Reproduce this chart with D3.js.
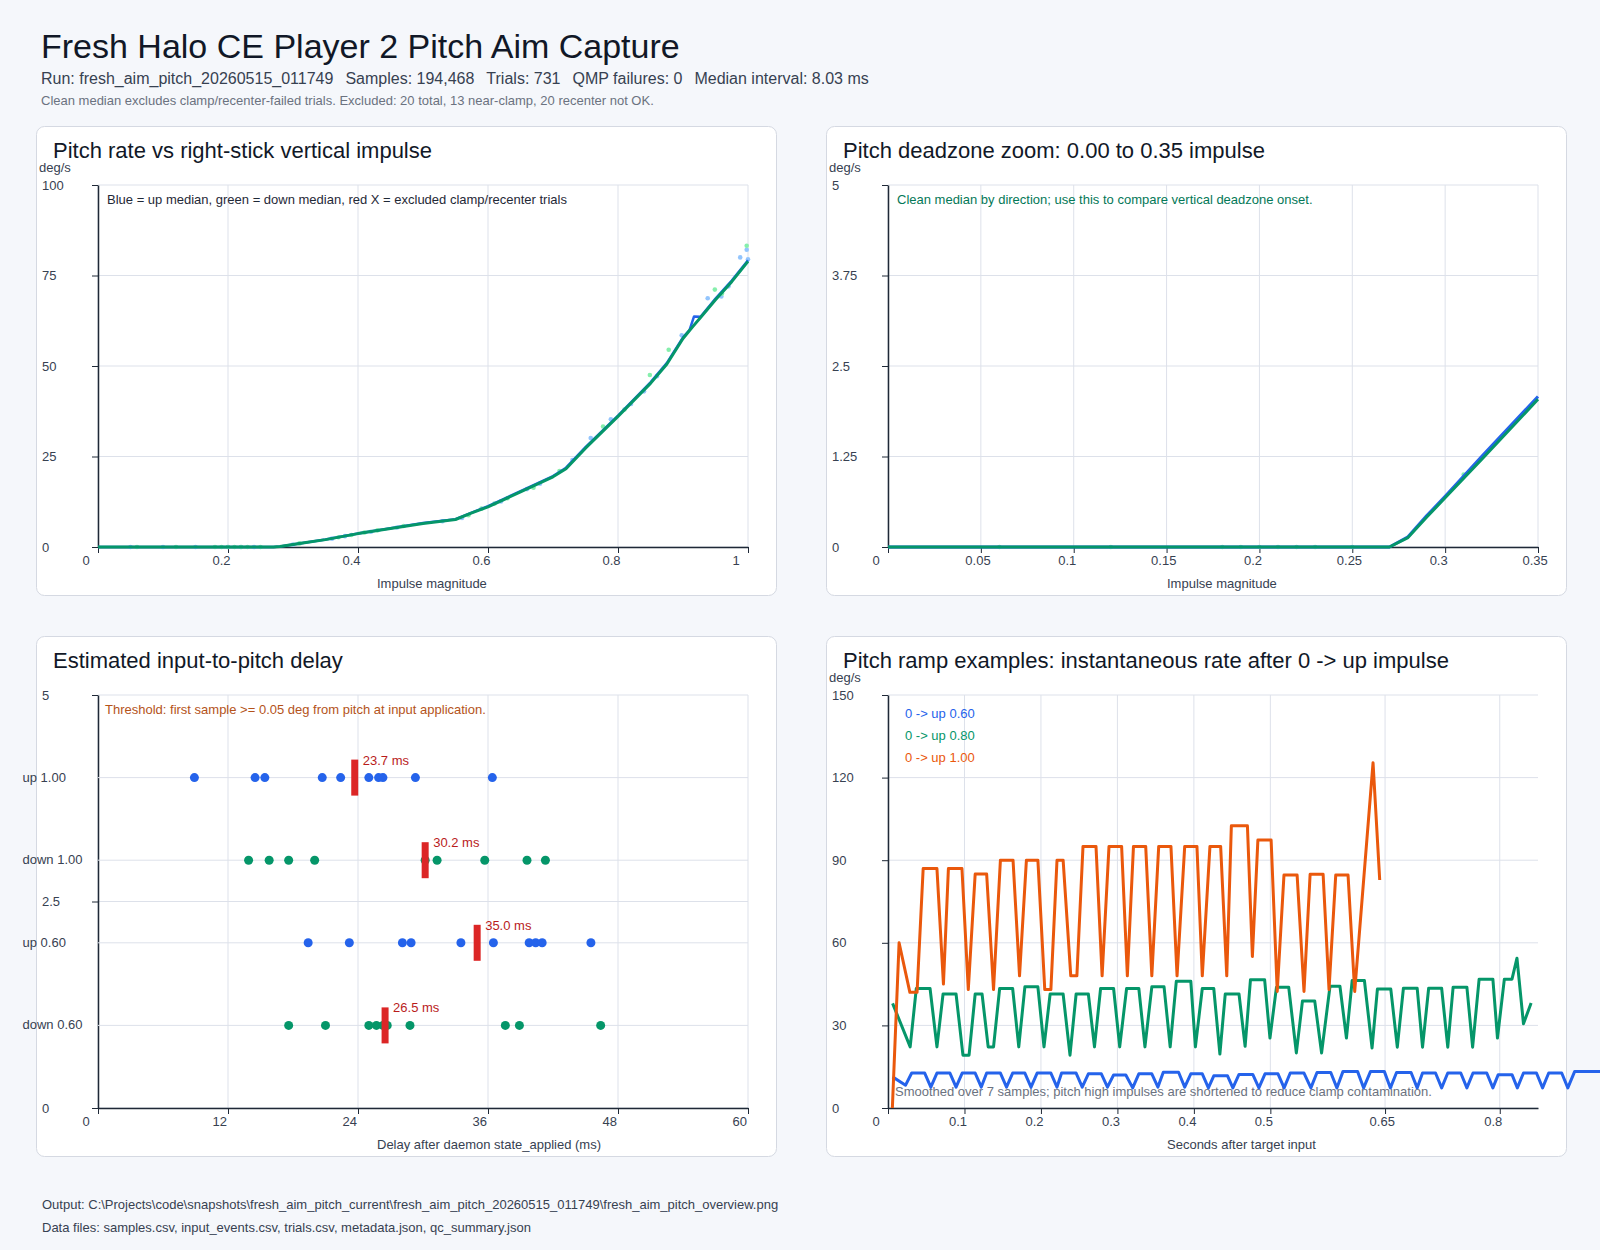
<!DOCTYPE html>
<html>
<head>
<meta charset="utf-8">
<script src="https://cdn.jsdelivr.net/npm/d3@7"></script>
<style>
html, body { margin: 0; padding: 0; background: #f5f7fb; }
svg { display: block; font-family: "Liberation Sans", Arial, sans-serif; }
</style>
</head>
<body>
<script>
var width = 1600;
var height = 1250;

// ------- data --------

// header
var title = 'Fresh Halo CE Player 2 Pitch Aim Capture';
var runInfo = ['Run: fresh_aim_pitch_20260515_011749', 'Samples: 194,468', 'Trials: 731', 'QMP failures: 0', 'Median interval: 8.03 ms'];
var cleanNote = 'Clean median excludes clamp/recenter-failed trials. Excluded: 20 total, 13 near-clamp, 20 recenter not OK.';
var footer = ['Output: C:\\Projects\\code\\snapshots\\fresh_aim_pitch_current\\fresh_aim_pitch_20260515_011749\\fresh_aim_pitch_overview.png',
              'Data files: samples.csv, input_events.csv, trials.csv, metadata.json, qc_summary.json'];

// pitch rate vs impulse (clean medians)
var impulse    = [0, 0.05, 0.1, 0.15, 0.2, 0.25, 0.27, 0.28, 0.29, 0.30, 0.32, 0.35, 0.40, 0.45, 0.50, 0.55, 0.575, 0.60, 0.65, 0.70, 0.72, 0.75, 0.80, 0.85, 0.875, 0.90, 0.91, 0.917, 0.927, 0.95, 0.975, 1.0];
var upMedian   = [0, 0, 0, 0, 0, 0, 0, 0.14, 0.43, 0.70, 1.26, 2.08, 3.75, 5.15, 6.6, 7.7, 9.5, 11.3, 15.4, 19.6, 21.9, 27.6, 36.3, 45.5, 50.8, 57.9, 59.9, 63.7, 63.6, 68.6, 73.6, 79.2];
var downMedian = [0, 0, 0, 0, 0, 0, 0, 0.13, 0.41, 0.68, 1.22, 2.04, 3.70, 5.10, 6.5, 7.6, 9.4, 11.1, 15.2, 19.4, 21.6, 27.3, 36.1, 45.2, 50.5, 57.6, 59.8, 61.3, 63.4, 68.3, 73.3, 78.9];

// individual clean trials [impulse, deg/s]
var upTrials = [[0.05, 0], [0.1, 0], [0.15, 0], [0.2, 0], [0.22, 0], [0.24, 0], [0.3, 0.7], [0.36, 2.3], [0.38, 3.0], [0.42, 4.2], [0.46, 5.4],
    [0.53, 7.1], [0.56, 8.0], [0.62, 12.6], [0.66, 16.0], [0.68, 17.5], [0.73, 24.0], [0.758, 30.1], [0.789, 35.3], [0.82, 39.5],
    [0.84, 43.0], [0.86, 47.2], [0.898, 58.5], [0.938, 68.7], [0.959, 69.2], [0.97, 72.0], [0.988, 80.0], [0.998, 82.1], [1.0, 79.5]];
var downTrials = [[0.06, 0], [0.12, 0], [0.18, 0], [0.19, 0], [0.2, 0], [0.21, 0], [0.22, 0], [0.23, 0], [0.25, 0], [0.31, 1.0], [0.37, 2.7],
    [0.39, 3.3], [0.41, 4.0], [0.43, 4.6], [0.47, 5.8], [0.57, 8.8], [0.59, 10.6], [0.61, 12.0], [0.63, 13.5], [0.67, 16.4], [0.71, 21.0],
    [0.777, 33.3], [0.81, 38.0], [0.849, 47.5], [0.878, 54.5], [0.949, 71.1], [0.96, 70.0], [0.998, 83.2]];

// delay per trial (ms)
var delayRows = ['up 1.00', 'down 1.00', 'up 0.60', 'down 0.60'];
var delayRowPos = [4, 3, 2, 1];
var delayUp100   = [8.9, 14.5, 15.4, 20.7, 22.4, 25.0, 25.9, 26.3, 29.3, 36.4];
var delayDown100 = [13.9, 15.8, 17.6, 20.0, 30.2, 31.3, 35.7, 39.6, 41.3];
var delayUp060   = [19.4, 23.2, 28.1, 28.9, 33.5, 36.5, 39.8, 40.4, 41.0, 45.5];
var delayDown060 = [17.6, 21.0, 25.0, 25.7, 26.3, 26.7, 28.8, 37.6, 38.9, 46.4];

// ramp examples [seconds, deg/s]
var rampLabels = ['0 -> up 0.60', '0 -> up 0.80', '0 -> up 1.00'];
var ramp060 = [[0.006, 11.3], [0.023, 8.3], [0.031, 12.7], [0.048, 12.7], [0.056, 7.6], [0.064, 12.7], [0.081, 12.7], [0.089, 7.6],
    [0.097, 12.7], [0.114, 12.7], [0.122, 7.6], [0.129, 12.7], [0.147, 12.7], [0.155, 7.6], [0.163, 12.7], [0.179, 12.7], [0.187, 7.6],
    [0.195, 12.7], [0.213, 12.7], [0.221, 7.6], [0.227, 12.7], [0.246, 12.7], [0.254, 7.6], [0.262, 12.4], [0.279, 12.4], [0.287, 7.6],
    [0.295, 12.0], [0.311, 12.0], [0.320, 7.3], [0.328, 12.4], [0.345, 12.4], [0.353, 7.6], [0.360, 13.0], [0.380, 13.0], [0.388, 7.6],
    [0.396, 12.4], [0.411, 12.4], [0.419, 7.3], [0.426, 11.7], [0.444, 11.7], [0.451, 7.3], [0.459, 12.2], [0.477, 12.2], [0.485, 7.3],
    [0.493, 12.4], [0.510, 12.4], [0.518, 7.3], [0.526, 12.7], [0.544, 12.7], [0.553, 7.3], [0.561, 12.9], [0.579, 12.9], [0.587, 7.3],
    [0.595, 13.3], [0.614, 13.3], [0.622, 7.3], [0.631, 13.3], [0.649, 13.3], [0.657, 7.3], [0.665, 12.9], [0.684, 12.9], [0.692, 7.3],
    [0.699, 12.7], [0.716, 12.7], [0.724, 7.3], [0.732, 12.7], [0.749, 12.7], [0.757, 7.3], [0.765, 12.7], [0.783, 12.7], [0.791, 7.3],
    [0.798, 12.1], [0.816, 12.1], [0.823, 7.3], [0.831, 12.7], [0.848, 12.7], [0.856, 7.3], [0.864, 12.7], [0.881, 12.7], [0.889, 7.3],
    [0.898, 13.3], [0.935, 13.3]];
var ramp080 = [[0.006, 38.0], [0.029, 22.2], [0.037, 43.4], [0.055, 43.4], [0.064, 22.2], [0.072, 41.4], [0.089, 41.4], [0.098, 19.2],
    [0.106, 19.2], [0.114, 41.4], [0.123, 41.4], [0.131, 22.2], [0.138, 22.2], [0.146, 43.4], [0.163, 43.4], [0.171, 22.2], [0.179, 44.0],
    [0.196, 44.0], [0.204, 22.2], [0.212, 41.4], [0.229, 41.4], [0.238, 19.2], [0.246, 41.4], [0.262, 41.4], [0.270, 22.2], [0.278, 43.4],
    [0.295, 43.4], [0.303, 22.2], [0.312, 43.4], [0.328, 43.4], [0.336, 22.2], [0.345, 44.0], [0.361, 44.0], [0.369, 22.2], [0.377, 46.0],
    [0.396, 46.0], [0.402, 22.2], [0.411, 43.4], [0.426, 43.4], [0.434, 19.6], [0.441, 41.4], [0.459, 41.4], [0.467, 22.4], [0.474, 46.6],
    [0.4925, 46.6], [0.4995, 25.4], [0.508, 43.9], [0.524, 43.9], [0.534, 20.0], [0.542, 38.9], [0.558, 38.9], [0.567, 20.0], [0.578, 44.2],
    [0.591, 44.2], [0.5995, 25.4], [0.607, 46.3], [0.623, 46.3], [0.633, 21.8], [0.640, 43.2], [0.6575, 43.2], [0.666, 22.1], [0.674, 43.5],
    [0.692, 43.5], [0.699, 22.1], [0.707, 43.5], [0.724, 43.5], [0.732, 22.1], [0.739, 43.9], [0.757, 43.9], [0.7645, 22.1], [0.773, 46.8],
    [0.791, 46.8], [0.797, 25.4], [0.806, 46.8], [0.816, 46.8], [0.8225, 54.4], [0.831, 30.6], [0.841, 38.1]];
var ramp100 = [[0.0057, 0], [0.0145, 60], [0.0286, 42], [0.038, 42], [0.046, 87], [0.064, 87], [0.0725, 45], [0.079, 87], [0.0967, 87],
    [0.105, 43], [0.114, 85], [0.129, 85], [0.138, 43], [0.147, 90], [0.1635, 90], [0.172, 48], [0.181, 90], [0.196, 90], [0.205, 43],
    [0.213, 43], [0.221, 90], [0.229, 90], [0.239, 48], [0.247, 48], [0.255, 95], [0.272, 95], [0.28, 48], [0.289, 95], [0.3055, 95],
    [0.313, 48], [0.321, 95], [0.337, 95], [0.345, 48], [0.354, 95], [0.370, 95], [0.378, 48], [0.388, 95], [0.404, 95], [0.411, 48],
    [0.421, 95], [0.435, 95], [0.443, 48], [0.449, 102.5], [0.470, 102.5], [0.4765, 55], [0.4837, 97.3], [0.501, 97.3], [0.509, 42.3],
    [0.5178, 84.6], [0.535, 84.6], [0.544, 42.3], [0.552, 84.9], [0.569, 84.9], [0.5767, 43], [0.5855, 84.6], [0.6016, 84.6], [0.6103, 42.3],
    [0.6343, 125.4], [0.643, 82.8]];

// tick labels
var rateXTicks = [0, 0.2, 0.4, 0.6, 0.8, 1];
var rateYTicks = [0, 25, 50, 75, 100];
var zoomXTicks = [0, 0.05, 0.1, 0.15, 0.2, 0.25, 0.3, 0.35];
var zoomYTicks = [0, 1.25, 2.5, 3.75, 5];
var delayXTicks = [0, 12, 24, 36, 48, 60];
var delayYTicks = [0, 2.5, 5];
var rampXTicks = [0, 0.1, 0.2, 0.3, 0.4, 0.5, 0.65, 0.8];
var rampYTicks = [0, 30, 60, 90, 120, 150];

// ------- SVG --------

var blue = '#2563eb', green = '#059669', orange = '#ea580c', red = '#dc2626';
var ink = '#111827', axisInk = '#1f2937', label = '#374151', grid = '#dde1ea';
var small = 13;
var fmt = d3.format('~g');

var svg = d3.select('body')
    .append('svg')
    .attr('width', width)
    .attr('height', height);

svg.append('rect').attr('width', width).attr('height', height).attr('fill', '#f5f7fb');

svg.append('text').attr('x', 41).attr('y', 58).attr('font-size', 34).attr('fill', ink).text(title);

var sub = svg.append('text').attr('x', 41).attr('y', 84).attr('font-size', 16).attr('fill', label);
runInfo.forEach(function(s, i) {
    sub.append('tspan').attr('dx', i ? 12 : 0).text(s);
});
svg.append('text').attr('x', 41).attr('y', 105).attr('font-size', small).attr('fill', '#6b7280').text(cleanNote);

footer.forEach(function(s, i) {
    svg.append('text').attr('x', 42).attr('y', 1209 + i * 23).attr('font-size', small).attr('fill', label).text(s);
});

// panel frame, grid and axes
function panel(p, name, x, y, xt, yt, yUnit, xTitle) {
    var g = svg.append('g');
    g.append('rect')
        .attr('x', p.x + 0.5).attr('y', p.y + 0.5)
        .attr('width', p.w).attr('height', p.h)
        .attr('rx', 8)
        .attr('fill', '#fff').attr('stroke', '#d5d9e2');
    g.append('text').attr('x', p.x + 17).attr('y', p.y + 32)
        .attr('font-size', 22).attr('fill', ink).text(name);
    if (yUnit) {
        g.append('text').attr('x', p.x + 3).attr('y', p.y + 46)
            .attr('font-size', small).attr('fill', label).text(yUnit);
    }

    var x0 = x.range()[0], x1 = x.range()[1], y0 = y.range()[0], y1 = y.range()[1];

    g.selectAll('line.vg').data(xt).enter().append('line')
        .attr('x1', function(d) { return x(d); }).attr('x2', function(d) { return x(d); })
        .attr('y1', y1).attr('y2', y0)
        .attr('stroke', grid);
    g.selectAll('line.hg').data(yt).enter().append('line')
        .attr('x1', x0).attr('x2', x1)
        .attr('y1', function(d) { return y(d); }).attr('y2', function(d) { return y(d); })
        .attr('stroke', grid);

    var xa = g.append('g')
        .attr('transform', 'translate(0,' + y0 + ')')
        .call(d3.axisBottom(x).tickValues(xt).tickFormat(fmt).tickSizeOuter(0));
    var ya = g.append('g')
        .attr('transform', 'translate(' + x0 + ',0)')
        .call(d3.axisLeft(y).tickValues(yt).tickFormat(fmt).tickSizeOuter(0));

    [xa, ya].forEach(function(a) {
        a.attr('font-family', null).attr('font-size', small);
        a.select('.domain').attr('stroke', axisInk).attr('stroke-width', 1.5);
        a.selectAll('.tick line').attr('stroke', axisInk);
        a.selectAll('.tick text').attr('fill', label).attr('text-anchor', 'start');
    });
    xa.selectAll('.tick text').attr('x', -16);
    ya.selectAll('.tick text').attr('x', p.x + 6 - x0);

    g.append('text').attr('x', p.x + 341).attr('y', p.y + p.h - 7)
        .attr('font-size', small).attr('fill', label).text(xTitle);
    return g;
}

function plotBox(p) {
    return { left: p.x + 62, right: p.x + p.w - 28, top: p.y + 59, bottom: p.y + p.h - 48 };
}

var P1 = { x: 36, y: 126, w: 740, h: 469 },
    P2 = { x: 826, y: 126, w: 740, h: 469 },
    P3 = { x: 36, y: 636, w: 740, h: 520 },
    P4 = { x: 826, y: 636, w: 740, h: 520 };

var medianRows = impulse.map(function(d, i) { return { x: d, up: upMedian[i], down: downMedian[i] }; });

// ------- panel 1: rate vs impulse --------
(function() {
    var b = plotBox(P1);
    var x = d3.scaleLinear().domain([0, 1]).range([b.left, b.right]),
        y = d3.scaleLinear().domain([0, 100]).range([b.bottom, b.top]);
    var g = panel(P1, 'Pitch rate vs right-stick vertical impulse', x, y, rateXTicks, rateYTicks, 'deg/s', 'Impulse magnitude');

    g.append('text').attr('x', b.left + 9).attr('y', b.top + 19)
        .attr('font-size', small).attr('fill', axisInk)
        .text('Blue = up median, green = down median, red X = excluded clamp/recenter trials');

    g.selectAll('circle.ut').data(upTrials).enter().append('circle')
        .attr('cx', function(d) { return x(d[0]); }).attr('cy', function(d) { return y(d[1]); })
        .attr('r', 2.3).attr('fill', '#93c5fd');
    g.selectAll('circle.dt').data(downTrials).enter().append('circle')
        .attr('cx', function(d) { return x(d[0]); }).attr('cy', function(d) { return y(d[1]); })
        .attr('r', 2.3).attr('fill', '#86efac');

    g.append('path').datum(medianRows)
        .attr('d', d3.line().x(function(d) { return x(d.x); }).y(function(d) { return y(d.up); }))
        .attr('fill', 'none').attr('stroke', blue).attr('stroke-width', 2.5).attr('stroke-linejoin', 'round');
    g.append('path').datum(medianRows)
        .attr('d', d3.line().x(function(d) { return x(d.x); }).y(function(d) { return y(d.down); }))
        .attr('fill', 'none').attr('stroke', green).attr('stroke-width', 3).attr('stroke-linejoin', 'round');
})();

// ------- panel 2: deadzone zoom --------
(function() {
    var b = plotBox(P2);
    var x = d3.scaleLinear().domain([0, 0.35]).range([b.left, b.right]),
        y = d3.scaleLinear().domain([0, 5]).range([b.bottom, b.top]);
    var g = panel(P2, 'Pitch deadzone zoom: 0.00 to 0.35 impulse', x, y, zoomXTicks, zoomYTicks, 'deg/s', 'Impulse magnitude');

    g.append('text').attr('x', b.left + 9).attr('y', b.top + 19)
        .attr('font-size', small).attr('fill', '#047857')
        .text('Clean median by direction; use this to compare vertical deadzone onset.');

    var rows = medianRows.filter(function(d) { return d.x <= 0.35; });
    g.selectAll('circle.dt').data(downTrials.filter(function(d) { return d[0] <= 0.35; })).enter().append('circle')
        .attr('cx', function(d) { return x(d[0]); }).attr('cy', function(d) { return y(d[1]); })
        .attr('r', 2.3).attr('fill', '#86efac');
    g.append('path').datum(rows)
        .attr('d', d3.line().x(function(d) { return x(d.x); }).y(function(d) { return y(d.up); }))
        .attr('fill', 'none').attr('stroke', blue).attr('stroke-width', 3).attr('stroke-linejoin', 'round');
    g.append('path').datum(rows)
        .attr('d', d3.line().x(function(d) { return x(d.x); }).y(function(d) { return y(d.down); }))
        .attr('fill', 'none').attr('stroke', green).attr('stroke-width', 3).attr('stroke-linejoin', 'round');
})();

// ------- panel 3: delay --------
(function() {
    var b = plotBox(P3);
    var x = d3.scaleLinear().domain([0, 60]).range([b.left, b.right]),
        y = d3.scaleLinear().domain([0, 5]).range([b.bottom, b.top]);
    var g = panel(P3, 'Estimated input-to-pitch delay', x, y, delayXTicks, delayYTicks, null, 'Delay after daemon state_applied (ms)');

    g.append('text').attr('x', b.left + 7).attr('y', b.top + 19)
        .attr('font-size', small).attr('fill', '#b4531a')
        .text('Threshold: first sample >= 0.05 deg from pitch at input application.');

    var sets = [delayUp100, delayDown100, delayUp060, delayDown060];
    delayRows.forEach(function(name, i) {
        var ry = y(delayRowPos[i]);
        var col = name.indexOf('up') === 0 ? blue : green;
        g.append('line').attr('x1', b.left).attr('x2', b.right).attr('y1', ry).attr('y2', ry).attr('stroke', grid);
        g.append('text').attr('x', 22.5).attr('y', ry + 4).attr('font-size', small).attr('fill', label).text(name);
        g.selectAll('circle.r' + i).data(sets[i]).enter().append('circle')
            .attr('cx', function(d) { return x(d); }).attr('cy', ry)
            .attr('r', 4.5).attr('fill', col);
        var m = d3.median(sets[i]);
        g.append('rect').attr('x', x(m) - 3.5).attr('y', ry - 18).attr('width', 7).attr('height', 36).attr('fill', red);
        g.append('text').attr('x', x(m) + 8).attr('y', ry - 13)
            .attr('font-size', small).attr('fill', '#b91c1c').text(d3.format('.1f')(m) + ' ms');
    });
})();

// ------- panel 4: ramp examples --------
(function() {
    var b = plotBox(P4);
    var x = d3.scaleLinear().domain([0, 0.85]).range([b.left, b.right]),
        y = d3.scaleLinear().domain([0, 150]).range([b.bottom, b.top]);
    var g = panel(P4, 'Pitch ramp examples: instantaneous rate after 0 -> up impulse', x, y, rampXTicks, rampYTicks, 'deg/s', 'Seconds after target input');

    g.append('text').attr('x', b.left + 7).attr('y', b.bottom - 12)
        .attr('font-size', small).attr('fill', '#6b7280')
        .text('Smoothed over 7 samples; pitch high impulses are shortened to reduce clamp contamination.');

    var line = d3.line().x(function(d) { return x(d[0]); }).y(function(d) { return y(d[1]); });
    var series = [ramp060, ramp080, ramp100], cols = [blue, green, orange];
    series.forEach(function(s, i) {
        g.append('path').datum(s).attr('d', line)
            .attr('fill', 'none').attr('stroke', cols[i]).attr('stroke-width', 3).attr('stroke-linejoin', 'round');
    });

    rampLabels.forEach(function(s, i) {
        g.append('text').attr('x', b.left + 17).attr('y', b.top + 23 + i * 22)
            .attr('font-size', small).attr('fill', cols[i]).text(s);
    });
})();
</script>
</body>
</html>
